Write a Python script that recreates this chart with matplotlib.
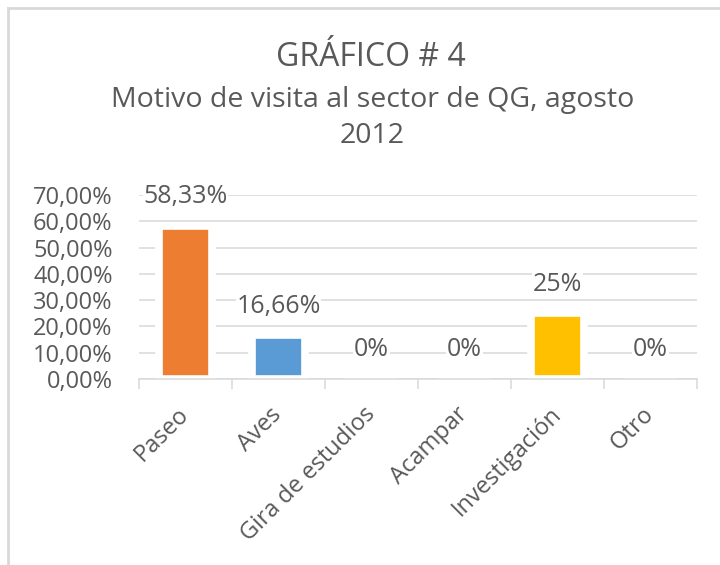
import numpy as np
import matplotlib
matplotlib.use("Agg")
import matplotlib.pyplot as plt
import matplotlib.ticker as ticker
from matplotlib.lines import Line2D

plt.rcParams['font.family'] = ['Open Sans', 'DejaVu Sans']

categories = ["Paseo", "Aves", "Gira de estudios", "Acampar", "Investigación", "Otro"]
values = [0.5833, 0.1666, 0.0, 0.0, 0.25, 0.0]
labels = ["58,33%", "16,66%", "0%", "0%", "25%", "0%"]
colors = ["#ED7D31", "#5B9BD5", "#A5A5A5", "#A5A5A5", "#FFC000", "#A5A5A5"]

TXT = "#595959"
GRID = "#D9D9D9"

fig = plt.figure(figsize=(7.2, 5.65), dpi=100)

# chart border (top and left edges visible)
fig.add_artist(Line2D([8/720, 8/720], [0, 1 - 8/565], transform=fig.transFigure, color=GRID, lw=2))
fig.add_artist(Line2D([8/720, 1], [1 - 8/565, 1 - 8/565], transform=fig.transFigure, color=GRID, lw=2))

ax = fig.add_axes([139/720, 1 - 379/565, (697 - 139)/720, (379 - 195)/565])

x = np.arange(len(categories))
ax.bar(x, values, width=0.56, color=colors, edgecolor="white", linewidth=5.5, zorder=2)

for xi, v, lab in zip(x, values, labels):
    ax.annotate(lab, (xi, v), xytext=(0, 12), textcoords="offset points",
                ha="center", va="bottom", fontsize=18, color=TXT, zorder=4,
                bbox=dict(facecolor="white", edgecolor="none", pad=0.5))

ax.set_xlim(-0.5, len(categories) - 0.5)
ax.set_ylim(0, 0.7)
ax.yaxis.set_major_locator(ticker.MultipleLocator(0.1))
ax.yaxis.set_major_formatter(ticker.FuncFormatter(lambda v, p: f"{v*100:.2f}%".replace(".", ",")))
ax.grid(axis="y", color=GRID, lw=1.1, zorder=0)
ax.set_axisbelow(True)

for s in ["top", "right", "left"]:
    ax.spines[s].set_visible(False)
ax.spines["bottom"].set_color(GRID)
ax.spines["bottom"].set_linewidth(1.1)
ax.spines["bottom"].set_zorder(3)

ax.tick_params(axis="y", length=0, pad=19, labelsize=17, labelcolor=TXT)
ax.set_xticks(x)
ax.set_xticks(np.arange(len(categories) + 1) - 0.5, minor=True)
ax.tick_params(axis="x", which="major", length=0, pad=23)
ax.tick_params(axis="x", which="minor", length=7, width=1.1, color=GRID)
ax.set_xticklabels(categories, rotation=45, ha="right", va="center",
                   rotation_mode="anchor", fontsize=17, color=TXT)

fig.text(0.515, 1 - 57/565, "GRÁFICO # 4", ha="center", va="center", fontsize=23, color=TXT)
fig.text(0.517, 1 - 100/565, "Motivo de visita al sector de QG, agosto", ha="center", va="center",
         fontsize=20.5, color=TXT)
fig.text(0.517, 1 - 136/565, "2012", ha="center", va="center", fontsize=20.5, color=TXT)

fig.savefig("out.png", dpi=100)
